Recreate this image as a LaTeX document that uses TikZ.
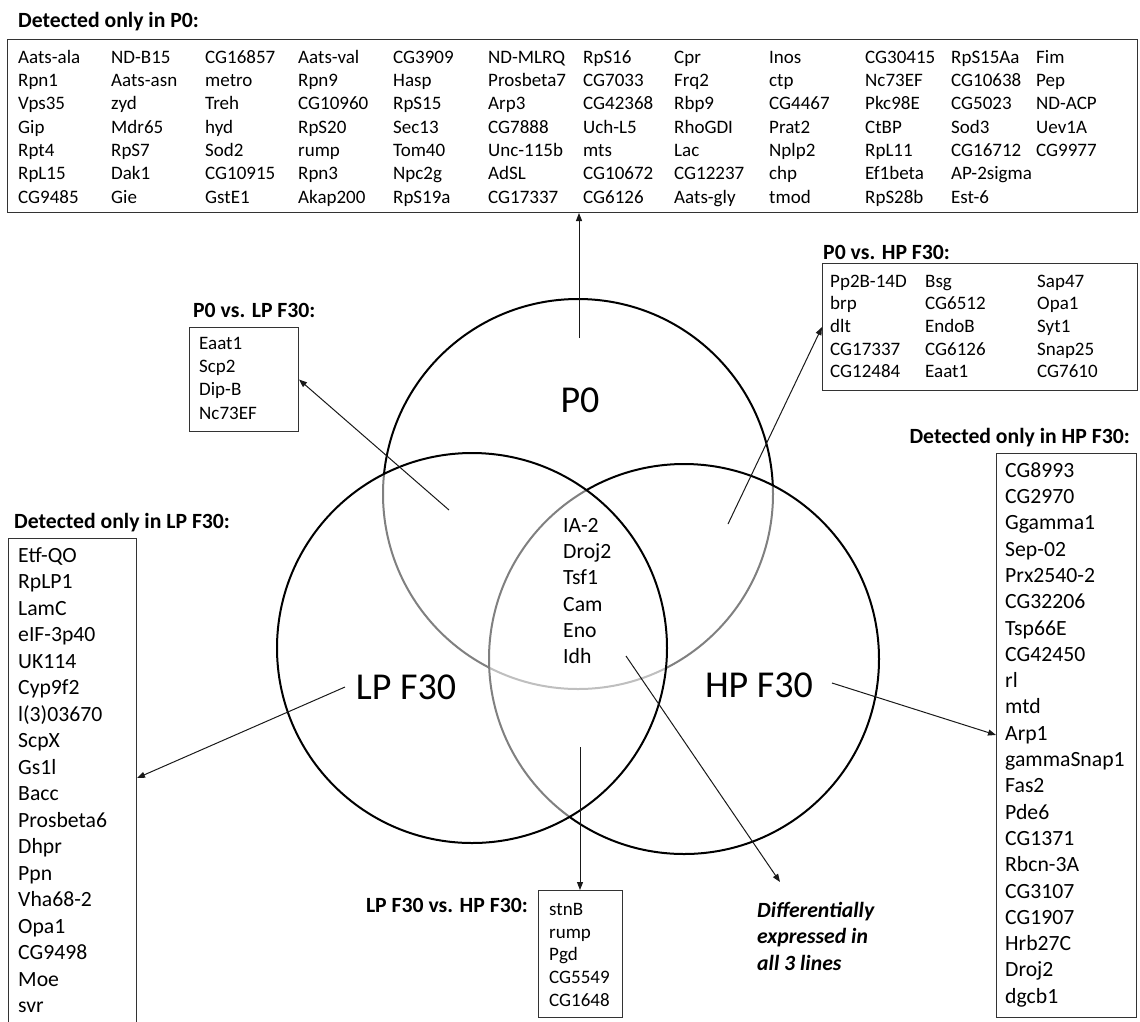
\documentclass[tikz,border=0pt]{standalone}
\usepackage{fontspec}
\setmainfont{Carlito}
\usetikzlibrary{arrows.meta}

\begin{document}
\begin{tikzpicture}[x=1pt,y=-1pt,
  gene/.style={anchor=base west, inner sep=0pt, yshift=-6.3pt, font=\fontsize{19}{23}\selectfont},
  biggene/.style={anchor=base west, inner sep=0pt, yshift=-7.2pt, font=\fontsize{21.7}{26}\selectfont},
  heading/.style={anchor=base west, inner sep=0pt, yshift=-7.2pt, font=\fontsize{21.7}{26}\selectfont\bfseries},
  headingR/.style={heading, anchor=base east},
  note/.style={anchor=base west, inner sep=0pt, yshift=-7.2pt, font=\fontsize{21.7}{26}\selectfont\bfseries\itshape},
  listbox/.style={draw=black!80, line width=1pt, inner sep=0pt, anchor=north west},
  setcircle/.style={circle, draw=black, line width=2pt, inner sep=0pt, minimum size=390pt},
  veil/.style={fill=white, fill opacity=0.5},
  setname/.style={inner sep=0pt, font=\fontsize{38}{44}\selectfont},
  link/.style={draw=black!90, line width=1pt, -{Triangle[length=8pt,width=6pt]}}
]
% page
\fill[white] (0,0) rectangle (1140,1021);
\useasboundingbox (0,0) rectangle (1140,1021);

% ---------- proteins found only in P0 ----------
\node[heading] (h-p0) at (18,20) {Detected only in P0:};
\node[listbox, minimum width=1130pt, minimum height=173pt] (topbox) at (7,39) {};
\foreach \row [count=\ri from 0] in {
  {Aats-ala,ND-B15,CG16857,Aats-val,CG3909,ND-MLRQ,RpS16,Cpr,Inos,CG30415,RpS15Aa,Fim},
  {Rpn1,Aats-asn,metro,Rpn9,Hasp,Prosbeta7,CG7033,Frq2,ctp,Nc73EF,CG10638,Pep},
  {Vps35,zyd,Treh,CG10960,RpS15,Arp3,CG42368,Rbp9,CG4467,Pkc98E,CG5023,ND-ACP},
  {Gip,Mdr65,hyd,RpS20,Sec13,CG7888,Uch-L5,RhoGDI,Prat2,CtBP,Sod3,Uev1A},
  {Rpt4,RpS7,Sod2,rump,Tom40,Unc-115b,mts,Lac,Nplp2,RpL11,CG16712,CG9977},
  {RpL15,Dak1,CG10915,Rpn3,Npc2g,AdSL,CG10672,CG12237,chp,Ef1beta,AP-2sigma},
  {CG9485,Gie,GstE1,Akap200,RpS19a,CG17337,CG6126,Aats-gly,tmod,RpS28b,Est-6}}{
  \foreach \g [count=\ci from 0] in \row {
    \pgfmathsetmacro\cx{{18,111,205,298,393,488,583,674,769,865,951,1036}[\ci]}
    \node[gene] (top-\ri-\ci) at (\cx,57+23.3*\ri) {\g};
  }
}

% ---------- P0 vs. LP F30 ----------
\node[heading] (h-pl) at (193,310) {P0 vs. LP F30:};
\node[listbox, minimum width=109pt, minimum height=104pt] (plbox) at (189,327) {};
\foreach \g [count=\i from 0] in {Eaat1,Scp2,Dip-B,Nc73EF}
  \node[gene] (pl-\i) at (199,343+23.3*\i) {\g};

% ---------- P0 vs. HP F30 ----------
\node[heading] (h-ph) at (823,252) {P0 vs. HP F30:};
\node[listbox, minimum width=315pt, minimum height=127pt] (phbox) at (822,263) {};
\foreach \row [count=\ri from 0] in {
  {Pp2B-14D,Bsg,Sap47},{brp,CG6512,Opa1},{dlt,EndoB,Syt1},
  {CG17337,CG6126,Snap25},{CG12484,Eaat1,CG7610}}{
  \foreach \g [count=\ci from 0] in \row {
    \pgfmathsetmacro\cx{{830,925,1037}[\ci]}
    \node[gene] (ph-\ri-\ci) at (\cx,281+22.6*\ri) {\g};
  }
}

% ---------- proteins found only in LP F30 ----------
\node[heading] (h-lp) at (14,521) {Detected only in LP F30:};
\node[listbox, minimum width=128pt, minimum height=500pt] (lpbox) at (8,538) {};
\foreach \g [count=\i from 0] in {Etf-QO,RpLP1,LamC,eIF-3p40,UK114,Cyp9f2,{l(3)03670},ScpX,Gs1l,Bacc,Prosbeta6,Dhpr,Ppn,Vha68-2,Opa1,CG9498,Moe,svr}
  \node[biggene] (lp-\i) at (18,555+26.5*\i) {\g};

% ---------- proteins found only in HP F30 ----------
\node[headingR] (h-hp) at (1130,436) {Detected only in HP F30:};
\node[listbox, minimum width=140pt, minimum height=564pt] (hpbox) at (996,453) {};
\foreach \g [count=\i from 0] in {CG8993,CG2970,Ggamma1,Sep-02,Prx2540-2,CG32206,Tsp66E,CG42450,rl,mtd,Arp1,gammaSnap1,Fas2,Pde6,CG1371,Rbcn-3A,CG3107,CG1907,Hrb27C,Droj2,dgcb1}
  \node[biggene] (hp-\i) at (1005,470+26.3*\i) {\g};

% ---------- LP F30 vs. HP F30 ----------
\node[headingR] (h-lh) at (528,905) {LP F30 vs. HP F30:};
\node[listbox, minimum width=84pt, minimum height=127pt] (lhbox) at (538,890) {};
\foreach \g [count=\i from 0] in {stnB,rump,Pgd,CG5549,CG1648}
  \node[gene] (lh-\i) at (549,909+22.8*\i) {\g};

% ---------- Venn circles (later ones veil the outlines beneath) ----------
\node[setcircle] (p0) at (578,494) {};
\node[setcircle, veil] (hp) at (684,659) {};
\node[setcircle, veil] (lp) at (472,648) {};

\node[setname] (p0lab) at (580,400) {P0};
\node[setname] (lplab) at (406,687) {LP F30};
\node[setname] (hplab) at (759,685) {HP F30};

\foreach \g [count=\i from 0] in {IA-2,Droj2,Tsf1,Cam,Eno,Idh}
  \node[biggene] (core-\i) at (563,525+26.3*\i) {\g};

\node[note] (all-0) at (757,910) {Differentially};
\node[note] (all-1) at (757,936.5) {expressed in};
\node[note] (all-2) at (757,963) {all 3 lines};

% ---------- pointers from the regions to their lists ----------
\coordinate (p0src) at (579,338);
\coordinate (plsrc) at (449,510);
\coordinate (phsrc) at (728,524);
\coordinate (lpsrc) at (345,687);
\coordinate (lpmark) at (0,778);
\coordinate (hpsrc) at (832,683);
\coordinate (lhsrc) at (580,747);
\coordinate (allsrc) at (626,656);
\coordinate (alltip) at (780,882);

\draw[link] (p0src) -- (p0src |- topbox.south);
\draw[link] (plsrc) -- (plbox.east);
\draw[link] (phsrc) -- (phbox.west);
\draw[link] (lpsrc) -- (lpbox.east |- lpmark);
\draw[link] (hpsrc) -- (hpbox.west |- hp-10.west);
\draw[link] (lhsrc) -- (lhsrc |- lhbox.north);
\draw[link] (allsrc) -- (alltip);
\end{tikzpicture}
\end{document}
